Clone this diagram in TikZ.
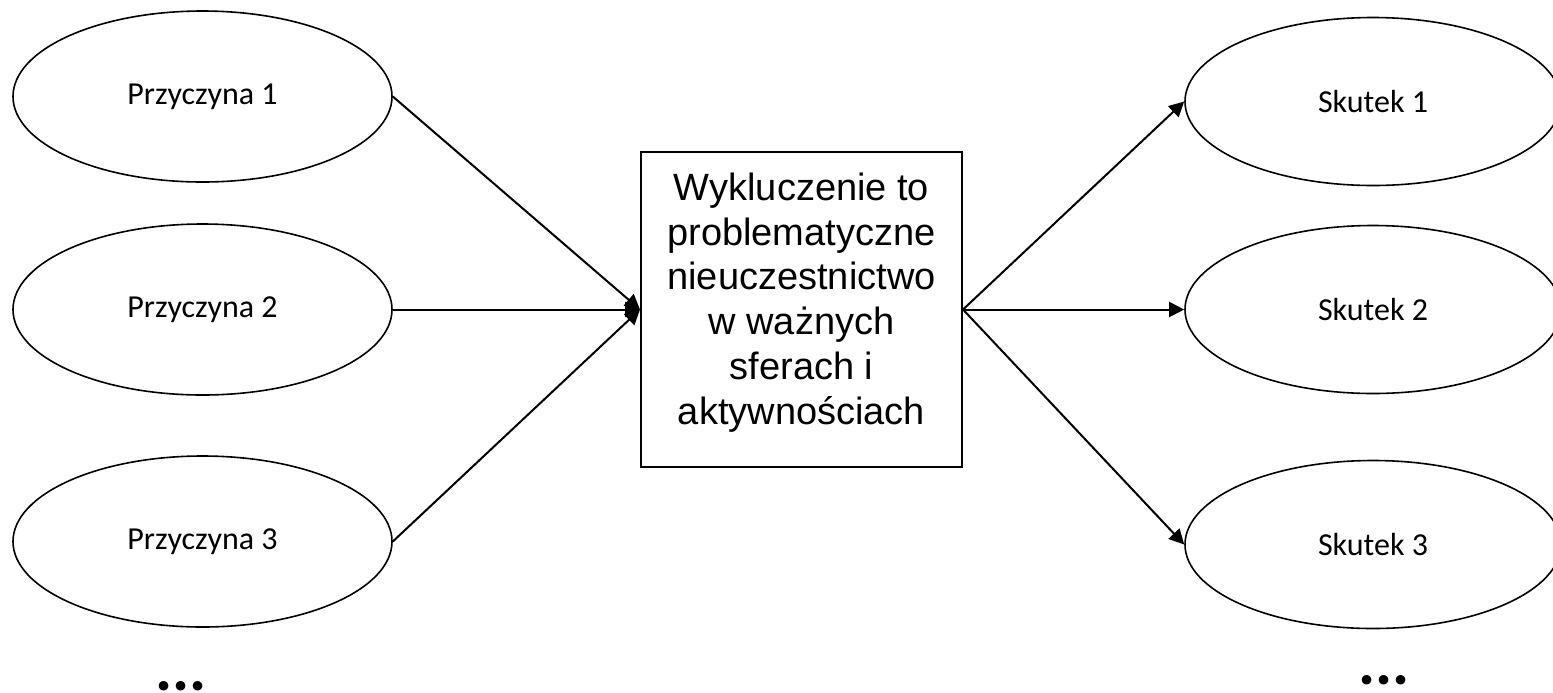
\documentclass[tikz,border=0pt]{standalone}
\usepackage{fontspec}
\setmainfont{Liberation Sans}
\newfontfamily\calibri{Carlito}
\usetikzlibrary{shapes.geometric,arrows.meta}
\tikzstyle{cause}=[
    draw,
    ellipse,
    line width = 0.8pt,
    minimum width = 189.5pt,
    minimum height = 85.5pt,
    inner sep = 0pt,
    font = \calibri\fontsize{16}{19}\selectfont
]
\tikzstyle{effect}=[
    cause,
    minimum width = 188pt,
    minimum height = 84pt
]
\tikzstyle{core}=[
    draw,
    line width = 1pt,
    minimum width = 160.5pt,
    minimum height = 157.5pt,
    align = center,
    text depth = 11pt,
    font = \fontsize{19}{22.4}\selectfont
]
\tikzstyle{link}=[
    line width = 1pt,
    -{Triangle[length=7.5pt, width=7.5pt]}
]
\tikzstyle{more}=[
    anchor = base,
    inner sep = 0pt,
    font = \calibri\bfseries\fontsize{32}{34}\selectfont
]

\begin{document}
\begin{tikzpicture}[node distance={106.5pt}]
        \useasboundingbox (0,0) rectangle (776.5pt,-346pt);

        \node[core] (w) at (400.75pt,-154.75pt) {Wykluczenie to\\problematyczne\\nieuczestnictwo\\w ważnych\\sferach i\\aktywnościach};

        \node[cause, node distance = 299.5pt] (p2) [left of = w] {Przyczyna 2};
        \node[cause] (p1) [above of = p2] {Przyczyna 1};
        \node[cause, node distance = 116pt] (p3) [below of = p2] {Przyczyna 3};

        \node[effect, node distance = 285.75pt] (s2) [right of = w] {Skutek 2};
        \node[effect, node distance = 104pt] (s1) [above of = s2] {Skutek 1};
        \node[effect, node distance = 117.5pt] (s3) [below of = s2] {Skutek 3};

        \node[more] (dl) at (90.5pt,-345pt) {...};
        \node[more] (dr) at (692pt,-342pt) {...};

        \draw[link] (p1.east) -- (w.west);
        \draw[link] (p2.east) -- (w.west);
        \draw[link] (p3.east) -- (w.west);
        \draw[link] (w.east) -- (s1.west);
        \draw[link] (w.east) -- (s2.west);
        \draw[link] (w.east) -- (s3.west);

    \end{tikzpicture}
\end{document}
